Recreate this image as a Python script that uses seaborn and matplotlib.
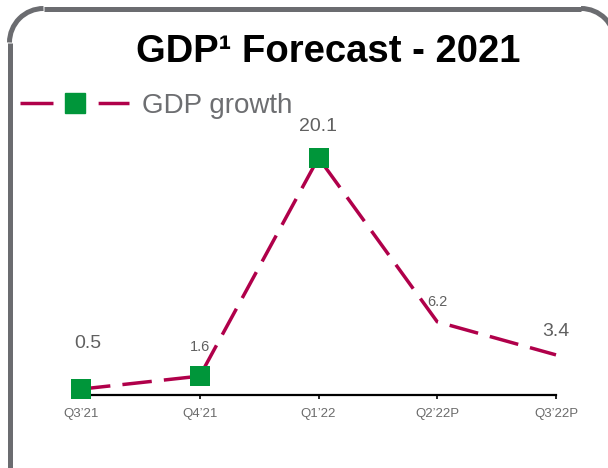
import matplotlib
matplotlib.use("Agg")
import matplotlib.pyplot as plt
import seaborn as sns
import pandas as pd
from matplotlib.lines import Line2D
from matplotlib.patches import Arc

# Data
quarters = ["Q3\u201921", "Q4\u201921", "Q1\u201922", "Q2\u201922P", "Q3\u201922P"]
gdp_growth = [0.5, 1.6, 20.1, 6.2, 3.4]
marked_points = 3  # actual figures get a square marker; projections do not
label_sizes = [14, 10.5, 14, 10.5, 14]
label_offsets_px = [(7, 46), (0, 29), (0, 31), (0, 20), (0, 23)]

df = pd.DataFrame({"quarter": quarters, "growth": gdp_growth})

sns.set_theme(style="white")
plt.rcParams["font.family"] = ["Liberation Sans", "DejaVu Sans"]

CRIMSON = "#B0004A"
GREEN = "#00963A"
GREY_TXT = "#606060"
GREY_TICK = "#6B6B6B"
FRAME = "#6B6C70"

W, H = 608, 468
fig = plt.figure(figsize=(W / 100, H / 100), dpi=100)
fig.patch.set_facecolor("white")

# Rounded frame drawn on a full-figure overlay in pixel units
bg = fig.add_axes([0, 0, 1, 1], zorder=-1)
bg.set_xlim(0, W)
bg.set_ylim(H, 0)
bg.axis("off")
left, top, right, r = 9.5, 8.5, 615.0, 34.0
frame_kw = dict(color=FRAME, linewidth=3.6, solid_capstyle="butt")
bg.plot([left, left], [top + r, H + 10], **frame_kw)
bg.plot([left + r, right - r], [top, top], **frame_kw)
bg.plot([right, right], [top + r, H + 10], **frame_kw)
bg.add_patch(Arc((left + r, top + r), 2 * r, 2 * r, theta1=180, theta2=270,
                 color=FRAME, linewidth=3.6))
bg.add_patch(Arc((right - r, top + r), 2 * r, 2 * r, theta1=270, theta2=360,
                 color=FRAME, linewidth=3.6))

ax = fig.add_axes([81 / W, 1 - 395 / H, (556 - 81) / W, 295 / H])
ax.set_facecolor("none")

sns.lineplot(data=df, x="quarter", y="growth", ax=ax, color=CRIMSON,
             linewidth=2.5, sort=False)
line = ax.lines[0]
line.set_dashes((8.5, 3.5))
line.set_clip_on(False)

sns.scatterplot(data=df.iloc[:marked_points], x="quarter", y="growth", ax=ax,
                marker="s", s=14.4 ** 2, color=GREEN, edgecolor=GREEN,
                linewidth=0, zorder=5, clip_on=False)

for i, (q, v) in enumerate(zip(quarters, gdp_growth)):
    dx, dy = label_offsets_px[i]
    ax.annotate(f"{v}", xy=(i, v), xytext=(dx * 0.72, dy * 0.72),
                textcoords="offset points", ha="center", va="center",
                fontsize=label_sizes[i], color=GREY_TXT, annotation_clip=False)

ax.set_xlim(0, len(quarters) - 1)
ax.set_ylim(0, 25)
ax.set_yticks([])
ax.set_xlabel("")
ax.set_ylabel("")
sns.despine(ax=ax, left=True)
ax.spines["bottom"].set_color("black")
ax.spines["bottom"].set_linewidth(1.6)
ax.tick_params(axis="x", bottom=True, direction="out", length=3, width=1.2,
               color="black", pad=6, labelsize=9.5, labelcolor=GREY_TICK)

# Title
fig.text(328.5 / W, 1 - 62 / H, "GDP\u00b9 Forecast - 2021", ha="center",
         va="baseline", fontsize=27.5, fontweight="bold", color="black")

# Legend
handle = Line2D([], [], color=CRIMSON, linewidth=2.5, dashes=(9.5, 13),
                marker="s", markersize=14.4, markerfacecolor=GREEN,
                markeredgecolor=GREEN)
fig.legend([handle], ["GDP growth"], loc="center left",
           bbox_to_anchor=(20 / W, 1 - 106 / H), frameon=False, borderpad=0,
           borderaxespad=0, handlelength=3.93, handletextpad=0.47,
           fontsize=20, labelcolor="#6D6E71", numpoints=1)

fig.savefig("out.png", dpi=100, facecolor="white")
